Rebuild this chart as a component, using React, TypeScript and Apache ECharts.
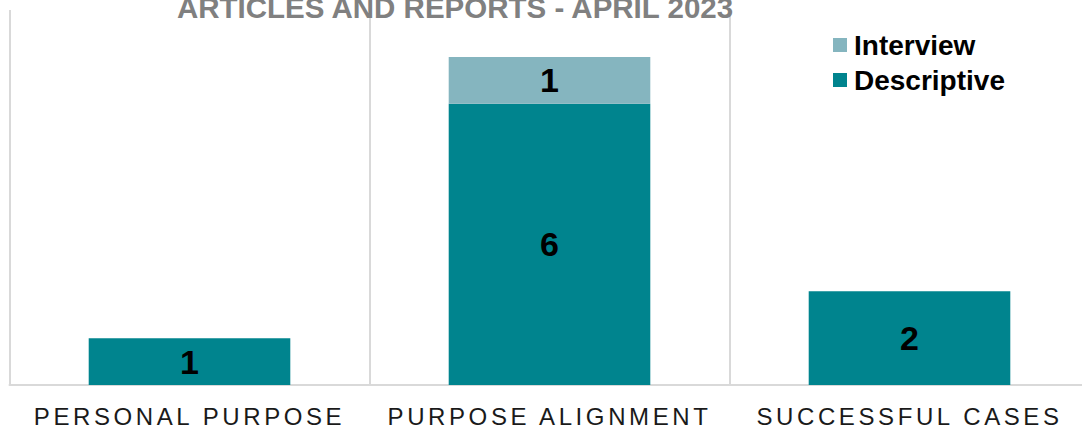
import React, { useEffect, useRef } from "react";
import * as echarts from "echarts";

const categories = ["PERSONAL PURPOSE", "PURPOSE ALIGNMENT", "SUCCESSFUL CASES"];
const descriptive = [1, 6, 2];
const interview = [null, 1, null];
const titleText = "ARTICLES AND REPORTS - APRIL 2023";

const FONT = "Arial, 'Liberation Sans', sans-serif";

export default function App() {
  const ref = useRef<HTMLDivElement>(null);
  useEffect(() => {
    if (!ref.current) return;
    const chart = echarts.init(ref.current, undefined, { renderer: "svg" });
    chart.setOption({
      animation: false,
      backgroundColor: "#ffffff",
      textStyle: { fontFamily: FONT },
      grid: { left: 9.5, top: 10, width: 1080, height: 375 },
      legend: {
        orient: "vertical",
        left: 828,
        top: 26,
        itemWidth: 14,
        itemHeight: 14,
        itemGap: 7,
        icon: "rect",
        data: ["Interview", "Descriptive"],
        textStyle: { fontFamily: FONT, fontSize: 28, fontWeight: "bold", color: "#000000", padding: [0, 0, 0, 2] },
      },
      graphic: [
        {
          type: "text",
          x: 455,
          y: 7,
          z: 100,
          style: {
            text: titleText,
            fontFamily: FONT,
            fontSize: 29.5,
            fontWeight: "bold",
            fill: "#808080",
            textAlign: "center",
            textVerticalAlign: "middle",
          },
        },
      ],
      xAxis: {
        type: "category",
        data: categories,
        axisLine: { show: true, lineStyle: { color: "#d9d9d9", width: 2 } },
        axisTick: { show: false },
        splitLine: { show: true, lineStyle: { color: "#d9d9d9", width: 2 } },
        axisLabel: { fontFamily: FONT, fontSize: 24, color: "#1a1a1a", margin: 19, interval: 0 },
      },
      yAxis: {
        type: "value",
        min: 0,
        max: 8,
        show: false,
        splitLine: { show: false },
      },
      series: [
        {
          name: "Descriptive",
          type: "bar",
          stack: "total",
          barWidth: "56%",
          data: descriptive,
          itemStyle: { color: "#00848e" },
          label: { show: true, position: "inside", fontFamily: FONT, fontSize: 34, fontWeight: "bold", color: "#000000" },
        },
        {
          name: "Interview",
          type: "bar",
          stack: "total",
          barWidth: "56%",
          data: interview,
          itemStyle: { color: "#85b5bf" },
          label: { show: true, position: "inside", fontFamily: FONT, fontSize: 34, fontWeight: "bold", color: "#000000" },
        },
      ],
    });
    const texts = ref.current.querySelectorAll("text");
    texts.forEach((t) => {
      if (categories.includes((t.textContent || "").trim())) {
        (t as SVGTextElement).style.letterSpacing = "3.6px";
      }
    });
    return () => chart.dispose();
  }, []);
  return (
    <div style={{ position: "fixed", left: 0, top: 0, width: 1082, height: 430, overflow: "hidden" }}>
      <div ref={ref} style={{ width: 1100, height: 430 }} />
    </div>
  );
}
